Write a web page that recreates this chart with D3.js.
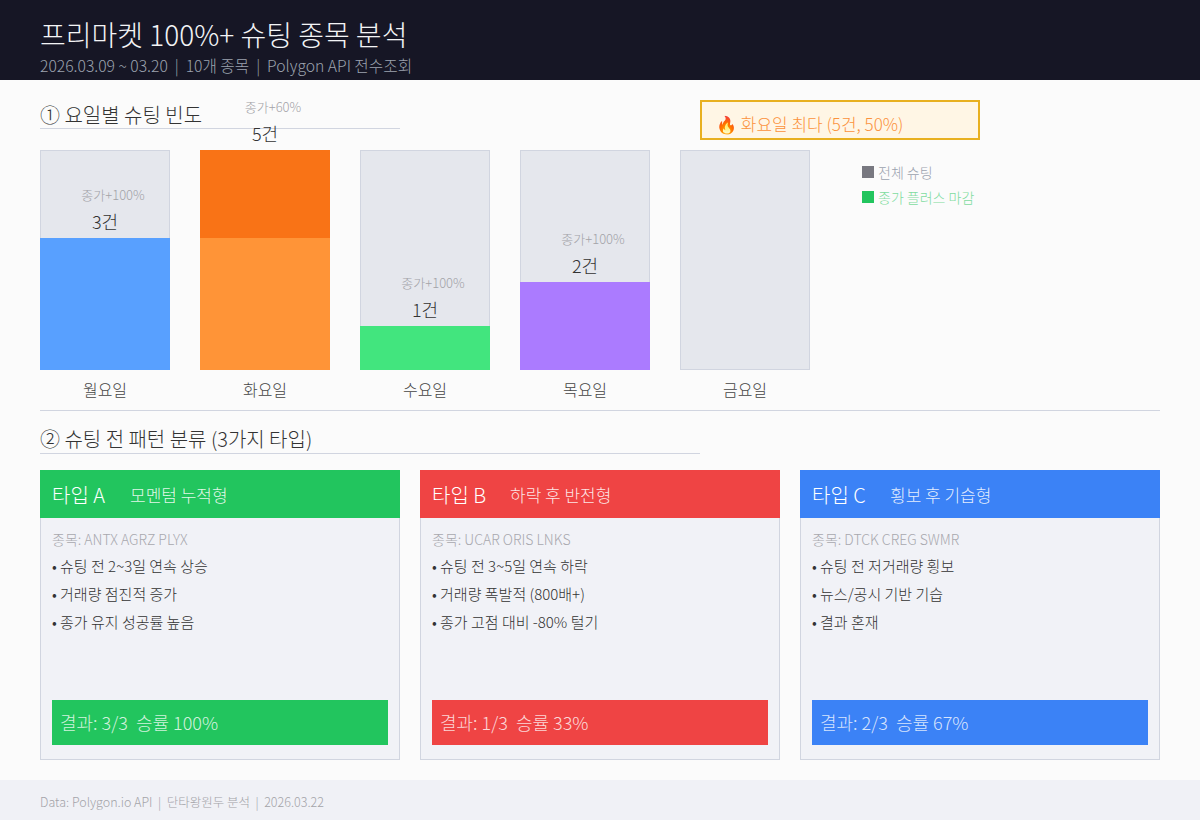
<!DOCTYPE html>
<html>
<head>
<meta charset="utf-8">
<script src="https://cdn.jsdelivr.net/npm/d3@7"></script>
<style>
  body { margin: 0; background: #fbfbfb; }
  svg text { font-family: "Noto Sans CJK KR", sans-serif; font-weight: 300; white-space: pre; }
</style>
</head>
<body>
<svg id="chart" width="1200" height="820"></svg>
<script>
const days = ["월요일", "화요일", "수요일", "목요일", "금요일"];
const totalShots = [3, 5, 1, 2, 0];
const closePlus = [3, 3, 1, 2, 0];
const plusRateLabels = ["종가+100%", "종가+60%", "종가+100%", "종가+100%", ""];
const strongColors = ["#3b82f6", "#f97316", "#22c55e", "#8b5cf6", "#9ca3af"];
const lightColors = ["#58a0ff", "#ff9437", "#42e57e", "#ab7bff", "#d1d5e0"];

const typeNames = ["타입 A", "타입 B", "타입 C"];
const typeTitles = ["모멘텀 누적형", "하락 후 반전형", "횡보 후 기습형"];
const typeTickers = ["ANTX AGRZ PLYX", "UCAR ORIS LNKS", "DTCK CREG SWMR"];
const typeBullets = [
  ["슈팅 전 2~3일 연속 상승", "거래량 점진적 증가", "종가 유지 성공률 높음"],
  ["슈팅 전 3~5일 연속 하락", "거래량 폭발적 (800배+)", "종가 고점 대비 -80% 털기"],
  ["슈팅 전 저거래량 횡보", "뉴스/공시 기반 기습", "결과 혼재"]
];
const typeResults = ["결과: 3/3  승률 100%", "결과: 1/3  승률 33%", "결과: 2/3  승률 67%"];
const typeColors = ["#22c55e", "#ef4444", "#3b82f6"];

const svg = d3.select("#chart");

// header
svg.append("rect").attr("width", 1200).attr("height", 80).attr("fill", "#161625");
svg.append("text").attr("x", 40).attr("y", 46).attr("font-size", 28).attr("fill", "#f3f4f6")
  .text("프리마켓 100%+ 슈팅 종목 분석");
svg.append("text").attr("x", 40).attr("y", 72).attr("font-size", 15.7).attr("fill", "#9ca3af")
  .text("2026.03.09 ~ 03.20  |  10개 종목  |  Polygon API 전수조회");

// section 1
svg.append("text").attr("x", 40).attr("y", 123).attr("font-size", 20).attr("fill", "#333")
  .text("① 요일별 슈팅 빈도");
svg.append("line").attr("x1", 40).attr("x2", 400).attr("y1", 128.5).attr("y2", 128.5)
  .attr("stroke", "#d1d5e0");

const x = d3.scaleBand().domain(days).range([40, 810]).paddingInner(30 / 160).paddingOuter(0);
const y = d3.scaleLinear().domain([0, d3.max(totalShots)]).range([370, 150]);

const bars = svg.append("g").selectAll("g").data(days).join("g");

bars.append("rect")
  .attr("x", d => x(d) + 0.5).attr("y", y(5) + 0.5)
  .attr("width", x.bandwidth() - 1).attr("height", y(0) - y(5) - 1)
  .attr("fill", "#e5e7ed").attr("stroke", "#d1d5e0");

bars.append("rect")
  .attr("x", d => x(d)).attr("y", (d, i) => y(totalShots[i]))
  .attr("width", x.bandwidth()).attr("height", (d, i) => y(0) - y(totalShots[i]))
  .attr("fill", (d, i) => strongColors[i]);

bars.append("rect")
  .attr("x", d => x(d)).attr("y", (d, i) => y(closePlus[i]))
  .attr("width", x.bandwidth()).attr("height", (d, i) => y(0) - y(closePlus[i]))
  .attr("fill", (d, i) => lightColors[i]);

bars.filter((d, i) => totalShots[i] > 0).append("text")
  .attr("x", d => x(d) + x.bandwidth() / 2).attr("y", d => y(totalShots[days.indexOf(d)]) - 9)
  .attr("text-anchor", "middle").attr("font-size", 18).attr("fill", "#333")
  .text(d => totalShots[days.indexOf(d)] + "건");

bars.filter((d, i) => totalShots[i] > 0).append("text")
  .attr("x", d => x(d) + x.bandwidth() / 2 + 8).attr("y", d => y(totalShots[days.indexOf(d)]) - 38)
  .attr("text-anchor", "middle").attr("font-size", 13).attr("fill", "#a3a3a8")
  .text(d => plusRateLabels[days.indexOf(d)]);

bars.append("text")
  .attr("x", d => x(d) + x.bandwidth() / 2).attr("y", 396)
  .attr("text-anchor", "middle").attr("font-size", 16).attr("fill", "#444")
  .text(d => d);

// highlight box
svg.append("rect").attr("x", 701).attr("y", 101).attr("width", 278).attr("height", 38)
  .attr("fill", "#fff6e5").attr("stroke", "#e8b020").attr("stroke-width", 2);
svg.append("text").attr("x", 716).attr("y", 131).attr("font-size", 17).attr("fill", "#fb923c")
  .text("🔥 화요일 최다 (5건, 50%)");

// legend
const legendItems = [
  { label: "전체 슈팅", box: "#787880", text: "#9ca3af" },
  { label: "종가 플러스 마감", box: "#22c55e", text: "#7fdca0" }
];
const legend = svg.append("g").selectAll("g").data(legendItems).join("g")
  .attr("transform", (d, i) => `translate(862,${166 + i * 25})`);
legend.append("rect").attr("width", 12).attr("height", 12).attr("fill", d => d.box);
legend.append("text").attr("x", 16).attr("y", 12).attr("font-size", 14).attr("fill", d => d.text)
  .text(d => d.label);

// divider
svg.append("line").attr("x1", 40).attr("x2", 1160).attr("y1", 410.5).attr("y2", 410.5)
  .attr("stroke", "#d1d5e0");

// section 2
svg.append("text").attr("x", 40).attr("y", 447).attr("font-size", 20).attr("fill", "#333")
  .text("② 슈팅 전 패턴 분류 (3가지 타입)");
svg.append("line").attr("x1", 40).attr("x2", 700).attr("y1", 453.5).attr("y2", 453.5)
  .attr("stroke", "#d1d5e0");

const cx = d3.scaleBand().domain(typeNames).range([40, 1160]).paddingInner(20 / 380).paddingOuter(0);

const cards = svg.append("g").selectAll("g").data(typeNames).join("g")
  .attr("transform", d => `translate(${cx(d)},470)`);

cards.append("rect").attr("x", 0.5).attr("y", 0.5).attr("width", cx.bandwidth() - 1).attr("height", 289)
  .attr("fill", "#f1f2f7").attr("stroke", "#d1d5e0");
cards.append("rect").attr("width", cx.bandwidth()).attr("height", 48)
  .attr("fill", (d, i) => typeColors[i]);
cards.append("text").attr("x", 12).attr("y", 33).attr("font-size", 20).attr("fill", "#fff")
  .text(d => d);
cards.append("text").attr("x", 90).attr("y", 32).attr("font-size", 17).attr("fill", "rgba(255,255,255,0.88)")
  .text((d, i) => typeTitles[i]);
cards.append("text").attr("x", 12).attr("y", 75).attr("font-size", 14).attr("fill", "#a8a8ae")
  .text((d, i) => "종목: " + typeTickers[i]);
cards.each(function (d, i) {
  d3.select(this).selectAll("text.bullet").data(typeBullets[i]).join("text")
    .attr("class", "bullet").attr("x", 12).attr("y", (b, j) => 102 + j * 28)
    .attr("font-size", 15).attr("fill", "#333")
    .text(b => "• " + b);
});
cards.append("rect").attr("x", 12).attr("y", 230).attr("width", cx.bandwidth() - 24).attr("height", 45)
  .attr("fill", (d, i) => typeColors[i]);
cards.append("text").attr("x", 20).attr("y", 260).attr("font-size", 18).attr("fill", "rgba(255,255,255,0.8)")
  .text((d, i) => typeResults[i]);

// footer
svg.append("rect").attr("y", 780).attr("width", 1200).attr("height", 40).attr("fill", "#f0f1f6");
svg.append("text").attr("x", 40).attr("y", 807).attr("font-size", 12.5).attr("fill", "#a3a3a8")
  .text("Data: Polygon.io API  |  단타왕원두 분석  |  2026.03.22");
</script>
</body>
</html>
